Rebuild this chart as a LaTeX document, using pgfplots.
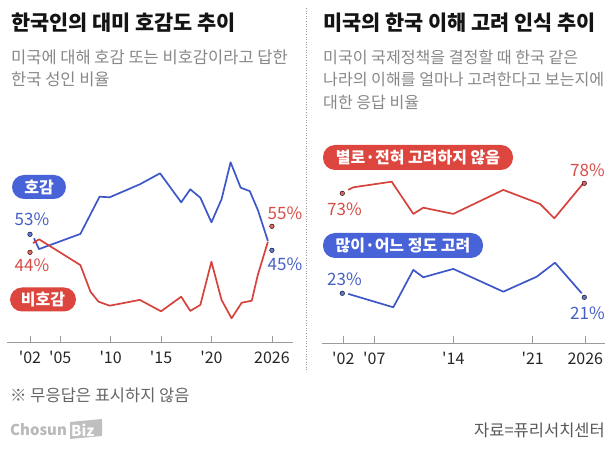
\documentclass[border=0pt]{standalone}
\usepackage{fontspec}
\setmainfont{Noto Sans CJK KR}
\usepackage{pgfplots}
\pgfplotsset{compat=1.18}
\definecolor{bl}{RGB}{61,86,200}
\definecolor{rd}{RGB}{214,66,60}
\definecolor{blT}{RGB}{70,95,195}
\definecolor{rdT}{RGB}{214,78,72}
\definecolor{blD}{RGB}{95,120,215}
\definecolor{rdD}{RGB}{226,100,95}
\definecolor{blP}{RGB}{72,98,215}
\definecolor{rdP}{RGB}{220,70,62}
\definecolor{sub}{RGB}{135,135,135}
\definecolor{axc}{RGB}{155,155,155}
\newcommand{\fs}[1]{\fontsize{#1}{#1}\selectfont}
\newcommand{\q}{\textquotesingle}
\pgfplotsset{panel/.style={scale only axis, clip=false, anchor=south west,
  axis x line=bottom, axis y line=none,
  x axis line style={-, draw=axc, line width=0.8pt},
  xtick style={draw=axc, line width=0.7pt},
  tick align=inside, major tick length=7pt, ytick=\empty,
  xticklabel style={font=\fs{16}, text=black!85, anchor=center, yshift=-15pt},
  /pgf/number format/assume math mode=true}}
\begin{document}
\begin{tikzpicture}[x=1pt,y=1pt]
\path[use as bounding box] (0pt,0pt) rectangle (616pt,455pt);
% titles
\node[anchor=west, font=\bfseries\fs{20.8}, text=black!92, inner sep=0] at (11pt,432pt) {한국인의 대미 호감도 추이};
\node[anchor=west, font=\fs{16.5}, text=sub, inner sep=0] at (11pt,397.5pt) {미국에 대해 호감 또는 비호감이라고 답한};
\node[anchor=west, font=\fs{16.5}, text=sub, inner sep=0] at (11pt,376pt) {한국 성인 비율};
\node[anchor=west, font=\bfseries\fs{20.8}, text=black!92, inner sep=0] at (323pt,432pt) {미국의 한국 이해 고려 인식 추이};
\node[anchor=west, font=\fs{16.1}, text=sub, inner sep=0] at (323pt,397.5pt) {미국이 국제정책을 결정할 때 한국 같은};
\node[anchor=west, font=\fs{16.1}, text=sub, inner sep=0] at (323pt,376pt) {나라의 이해를 얼마나 고려한다고 보는지에};
\node[anchor=west, font=\fs{16.1}, text=sub, inner sep=0] at (323pt,353pt) {대한 응답 비율};
% separator
\draw[axc, line width=0.6pt, dotted] (306pt,447pt) -- (306pt,83pt);
% left panel
\begin{axis}[panel, at={(7pt,112.3pt)}, width=286pt, height=192.7pt,
  xmin=1999.72, xmax=2028.09, ymin=-1.2, ymax=95.15,
  xtick={2002,2005,2010,2015,2020,2026},
  xticklabels={\q02,\q05,\q10,\q15,\q20,2026}]
\addplot[bl, line width=1.7pt, line join=round] coordinates {
(2002.4,51) (2002.9,45.6) (2007,53.2) (2008.9,71.8) (2009.9,71.5) (2012.9,78)
(2014.9,83.5) (2017,69) (2017.9,75.5) (2018.9,71.3) (2020,59) (2021,70.5)
(2021.9,89) (2022.9,76.3) (2023.8,74.6) (2024.6,65.2) (2025.6,49.7)};
\addplot[rd, line width=1.7pt, line join=round] coordinates {
(2002.3,48.6) (2002.9,50.5) (2007,37.6) (2008,24.3) (2008.8,19.3) (2009.9,17.3)
(2012.9,20.2) (2015,14.5) (2017,21.8) (2017.9,14.7) (2018.9,17.7) (2020,39.3)
(2021,20.2) (2022,11) (2023,18.8) (2024,19.8) (2024.6,32.7) (2025.6,49.3)};
\addplot[only marks, mark=*, mark size=2.3pt, mark options={draw=none, fill=blD}] coordinates {(2002,53) (2026,45)};
\addplot[only marks, mark=*, mark size=2.3pt, mark options={draw=none, fill=rdD}] coordinates {(2002,44) (2026,57)};
\end{axis}
% right panel
\begin{axis}[panel, at={(321.7pt,111.7pt)}, width=283.3pt, height=193.3pt,
  xmin=321.7, xmax=605, ymin=-2, ymax=94.65,
  xtick={343.3,374.3,453.3,532.7,585.3},
  xticklabels={\q02,\q07,\q14,\q21,2026}]
\addplot[rd, line width=1.7pt, line join=round] coordinates {
(348.3,74.7) (353.3,76) (391.7,78.8) (413.3,62.7) (423.3,65.8) (453.3,62.7)
(503.3,74.7) (540,67.7) (554.3,60.5) (583.3,78)};
\addplot[bl, line width=1.7pt, line join=round] coordinates {
(348.3,22.7) (393.3,16) (413.3,34.7) (423.3,31) (453.3,35.2) (503.3,23.8)
(536.7,31.3) (555,38.3) (581.7,23)};
\addplot[only marks, mark=*, mark size=2.3pt, mark options={draw=none, fill=rdD}] coordinates {(342.3,73) (584.3,78)};
\addplot[only marks, mark=*, mark size=2.3pt, mark options={draw=none, fill=blD}] coordinates {(342.3,23) (584.3,21)};
\end{axis}
% pills
\tikzset{pill/.style={rounded corners=12pt, minimum height=24pt, inner sep=0, text=white, font=\bfseries\fs{16}}}
\node[pill, fill=blP, minimum width=54pt] at (39pt,268pt) {호감};
\node[pill, fill=rdP, minimum width=66pt] at (43pt,155.5pt) {비호감};
\node[pill, fill=rdP, minimum width=190pt, minimum height=25pt] at (418pt,297.5pt) {별로·전혀 고려하지 않음};
\node[pill, fill=blP, minimum width=160pt, minimum height=25pt] at (403pt,209.5pt) {많이·어느 정도 고려};
% value labels
\node[font=\fs{17}, text=blT] at (32pt,236pt) {53\%};
\node[font=\fs{17}, text=rdT] at (32pt,190pt) {44\%};
\node[font=\fs{17}, text=rdT] at (285pt,242pt) {55\%};
\node[font=\fs{17}, text=blT] at (285pt,191pt) {45\%};
\node[font=\fs{17}, text=rdT] at (344.5pt,246pt) {73\%};
\node[font=\fs{17}, text=rdT] at (587.5pt,285pt) {78\%};
\node[font=\fs{17}, text=blT] at (344.5pt,176pt) {23\%};
\node[font=\fs{17}, text=blT] at (587.5pt,142pt) {21\%};
% footer
\node[anchor=west, font=\fs{16.5}, text=black!60, inner sep=0] at (10pt,60pt) {※ 무응답은 표시하지 않음};
\node[anchor=west, font=\bfseries\fs{15}, text=black!28, inner sep=0] at (10pt,25pt) {Chosun};
\fill[black!25] (70pt,16pt) -- (102pt,19pt) -- (102pt,36pt) -- (70pt,33pt) -- cycle;
\node[anchor=west, font=\bfseries\fs{15}, text=white, inner sep=0] at (71pt,25pt) {Biz};
\node[anchor=east, font=\fs{16.5}, text=black!65, inner sep=0] at (605pt,25pt) {자료=퓨리서치센터};
\end{tikzpicture}
\end{document}
